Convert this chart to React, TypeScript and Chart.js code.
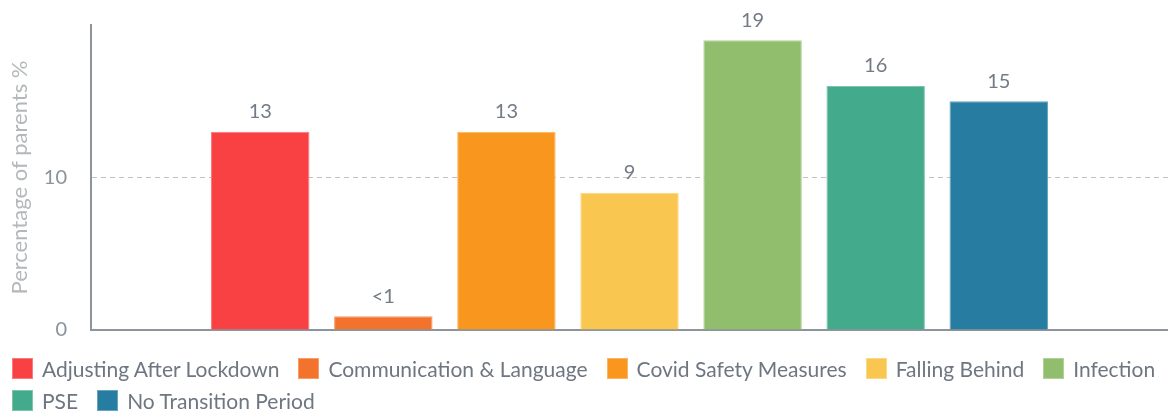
import React, { useEffect, useRef } from "react";
import { Chart, registerables } from "chart.js";

Chart.register(...registerables);

const categories = [""];
const seriesNames = [
  "Adjusting After Lockdown",
  "Communication & Language",
  "Covid Safety Measures",
  "Falling Behind",
  "Infection",
  "PSE",
  "No Transition Period",
];
const seriesValues = [13, 0.9, 13, 9, 19, 16, 15];
const valueLabels = ["13", "<1", "13", "9", "19", "16", "15"];
const seriesColors = ["#F94144", "#F3722C", "#F8961E", "#F9C74F", "#90BE6D", "#43AA8B", "#277DA1"];
const yTicks = [0, 10];
const yMax = 20;
const yTitle = "Percentage of parents %";

const FONT = "Lato, 'Open Sans', sans-serif";

function lighten(hex: string, amt: number) {
  const n = parseInt(hex.slice(1), 16);
  const r = (n >> 16) & 255, g = (n >> 8) & 255, b = n & 255;
  const m = (c: number) => Math.round(c + (255 - c) * amt);
  return `rgb(${m(r)},${m(g)},${m(b)})`;
}

const valueLabelPlugin = {
  id: "valueLabels",
  afterDatasetsDraw(chart: any) {
    const ctx = chart.ctx;
    ctx.save();
    ctx.font = `20px ${FONT}`;
    ctx.fillStyle = "#737b85";
    ctx.textAlign = "center";
    ctx.textBaseline = "middle";
    chart.data.datasets.forEach((ds: any, i: number) => {
      const meta = chart.getDatasetMeta(i);
      meta.data.forEach((el: any) => {
        ctx.fillText(valueLabels[i], el.x, el.y - 20);
      });
    });
    ctx.restore();
  },
};

export default function App() {
  const ref = useRef<HTMLCanvasElement>(null);
  useEffect(() => {
    if (!ref.current) return;
    const chart = new Chart(ref.current, {
      type: "bar",
      data: {
        labels: categories,
        datasets: seriesNames.map((name, i) => ({
          label: name,
          data: [seriesValues[i]],
          backgroundColor: seriesColors[i],
          borderColor: lighten(seriesColors[i], 0.3),
          borderWidth: 1,
          categoryPercentage: 0.8,
          barPercentage: 0.8,
        })),
      },
      options: {
        responsive: false,
        animation: false,
        layout: { padding: { top: 25, left: 0, right: 0, bottom: 68 } },
        plugins: {
          legend: { display: false },
          tooltip: { enabled: false },
        },
        scales: {
          x: {
            grid: { display: false },
            border: { display: true, color: "#8d949c", width: 2 },
            ticks: { display: false },
            afterFit: (s: any) => { s.height = 16; s.paddingLeft = 0; s.paddingRight = 0; },
          },
          y: {
            min: 0,
            max: yMax,
            border: { display: true, color: "#8d949c", width: 2, dash: [5, 4] },
            grid: {
              color: (c: any) => (c.tick && c.tick.value === 10 ? "#bfc3c7" : "rgba(0,0,0,0)"),
              lineWidth: 1,
              drawTicks: false,
            },
            ticks: {
              color: "#8a929b",
              font: { family: FONT, size: 20 },
              padding: 24,
            },
            afterBuildTicks: (s: any) => {
              s.ticks = yTicks.map((v) => ({ value: v }));
            },
            afterFit: (s: any) => { s.width = 91; s.paddingTop = 0; s.paddingBottom = 0; },
            title: {
              display: true,
              text: yTitle,
              color: "#b5b8bb",
              font: { family: FONT, size: 22 },
              padding: { top: 7, bottom: 0 },
            },
          } as any,
        },
      },
      plugins: [valueLabelPlugin],
    });
    return () => chart.destroy();
  }, []);
  return (
    <div style={{ position: "fixed", left: 0, top: 0, width: 1168, height: 414, overflow: "hidden" }}>
      <canvas ref={ref} width={1168} height={414} style={{ display: "block" }} />
      <div
        style={{
          position: "absolute",
          left: 12,
          top: 352,
          width: 1190,
          display: "flex",
          flexWrap: "wrap",
          fontFamily: FONT,
          fontSize: 21,
          color: "#6e7681",
        }}
      >
        {seriesNames.map((name, i) => (
          <div key={name} style={{ display: "flex", alignItems: "center", height: 32, marginRight: 19 }}>
            <span
              style={{
                display: "inline-block",
                width: 21,
                height: 21,
                boxSizing: "border-box",
                background: seriesColors[i],
                border: `1px solid ${lighten(seriesColors[i], 0.3)}`,
                marginRight: 9,
              }}
            />
            <span style={{ whiteSpace: "nowrap" }}>{name}</span>
          </div>
        ))}
      </div>
    </div>
  );
}
